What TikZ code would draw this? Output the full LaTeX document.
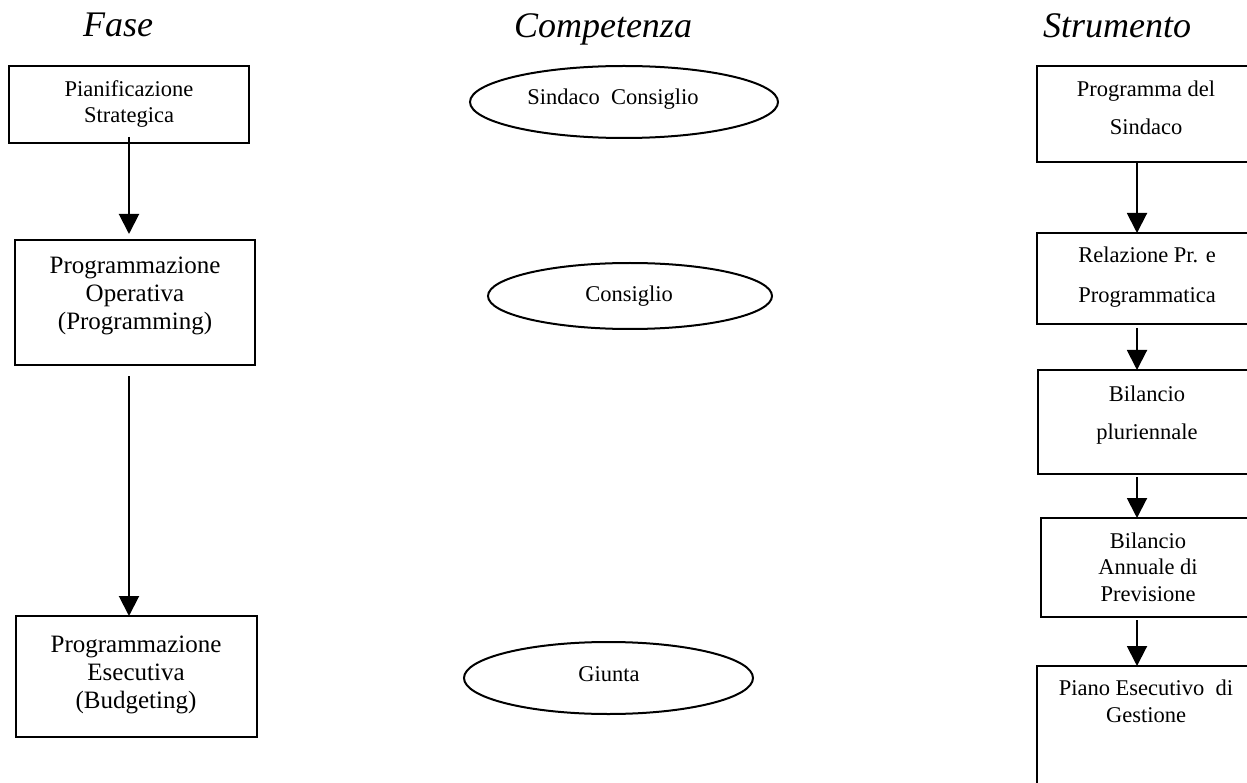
\documentclass[tikz,border=0pt]{standalone}
\usepackage{fontspec}
\setmainfont{Liberation Serif}
\usetikzlibrary{arrows.meta,shapes.geometric}

% multi-line text nodes sit on the baseline of their last line
\tikzset{
  box/.style={draw, line width=2pt, rectangle, inner sep=0pt, outer sep=0pt},
  oval/.style={draw, line width=2pt, ellipse, inner sep=0pt, outer sep=0pt},
  txt/.style={anchor=base, inner sep=0pt, align=center,
              font=\fontsize{22.5}{26}\selectfont},
  bigtxt/.style={anchor=base, inner sep=0pt, align=center,
                 font=\fontsize{25}{28}\selectfont},
  head/.style={anchor=base, inner sep=0pt,
               font=\fontsize{36}{40}\selectfont\itshape},
  arr/.style={line width=2pt, -{Triangle[width=20pt,length=20pt]}}
}

\begin{document}
\begin{tikzpicture}[x=1pt,y=-1pt]
\path[use as bounding box, clip] (0,0) rectangle (1247,783);

% column headings
\node[head] (hFase) at (118,37) {Fase};
\node[head] (hComp) at (603,38) {Competenza};
\node[head] (hStru) at (1117,38) {Strumento};

% phases
\node[box, minimum width=240pt, minimum height=77pt]  (b1) at (129,104.5) {};
\node[txt] (t1) at (129,123) {Pianificazione\\Strategica};
\node[box, minimum width=240pt, minimum height=125pt] (b2) at (135,302.5) {};
\node[bigtxt] (t2) at (135,330) {Programmazione\\Operativa\\(Programming)};
\node[box, minimum width=241pt, minimum height=121pt] (b3) at (136.5,676.5) {};
\node[bigtxt] (t3) at (136,708) {Programmazione\\Esecutiva\\(Budgeting)};

% competences
\node[oval, minimum width=308pt, minimum height=72pt] (e1) at (624,102) {};
\node[txt] (s1) at (613,105) {Sindaco\ \ Consiglio};
\node[oval, minimum width=284pt, minimum height=66pt] (e2) at (630,296) {};
\node[txt] (s2) at (629,302) {Consiglio};
\node[oval, minimum width=289pt, minimum height=72pt] (e3) at (608.5,678) {};
\node[txt] (s3) at (609,681) {Giunta};

% instruments
\node[box, minimum width=220pt, minimum height=96pt]  (rA) at (1147,114) {};
\node[txt, font=\fontsize{22.5}{38}\selectfont] (uA) at (1146,135) {Programma del\\Sindaco};
\node[box, minimum width=220pt, minimum height=91pt]  (rB) at (1147,278.5) {};
\node[txt, font=\fontsize{22.5}{40}\selectfont] (uB) at (1147,303) {Relazione Pr. e\\Programmatica};
\node[box, minimum width=219pt, minimum height=104pt] (rC) at (1147.5,422) {};
\node[txt, font=\fontsize{22.5}{38}\selectfont] (uC) at (1147,439) {Bilancio\\pluriennale};
\node[box, minimum width=216pt, minimum height=99pt]  (rD) at (1149,567.5) {};
\node[txt, font=\fontsize{22.5}{26.5}\selectfont] (uD) at (1148,601) {Bilancio\\Annuale di\\Previsione};
\node[box, minimum width=220pt, minimum height=134pt] (rE) at (1147,733) {};
\node[txt, font=\fontsize{22.5}{27}\selectfont] (uE) at (1146,722) {Piano Esecutivo\ \ di\\Gestione};

% connectors
\coordinate (lc) at (129,0);
\coordinate (rc) at (1137,0);
\draw[arr] ([yshift=6pt]lc |- b1.south) -- ([yshift=6pt]lc |- b2.north);
\draw[arr] ([yshift=-11pt]lc |- b2.south) -- (lc |- b3.north);
\draw[arr] (rc |- rA.south) -- (rc |- rB.north);
\draw[arr] ([yshift=-4pt]rc |- rB.south) -- (rc |- rC.north);
\draw[arr] ([yshift=-3pt]rc |- rC.south) -- (rc |- rD.north);
\draw[arr] ([yshift=-3pt]rc |- rD.south) -- (rc |- rE.north);
\end{tikzpicture}
\end{document}
